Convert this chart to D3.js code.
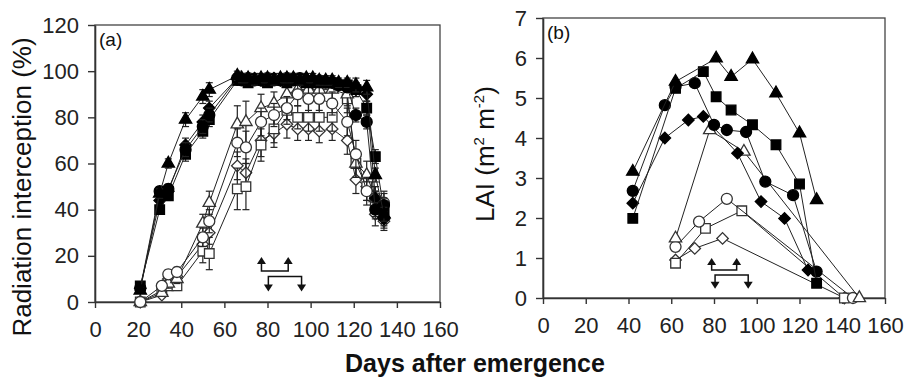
<!DOCTYPE html>
<head>
<meta charset="utf-8">
<script src="https://d3js.org/d3.v7.min.js"></script>
<style>
  body { margin:0; background:#fff; }
  svg { font-family: "Liberation Sans", Arial, sans-serif; }
</style>
</head>
<body>
<script>
// ---- data: panel (a) radiation interception (%) ----
var daysFilledA = [21, 30, 34, 42, 50, 53, 66, 68, 71, 74, 77, 80, 83, 86, 89, 92, 95, 98, 101, 104, 107, 110, 113, 117, 121, 126, 130, 134];
var riFilledTri = [5, 47, 60, 79, 89, 92, 98, 97, 97, 96, 97, 97, 96, 97, 97, 97, 96, 97, 97, 96, 96, 96, 95, 95, 94, 93, 55, 38];
var riFilledCir = [6, 48, 49, 66, 76, 81, 97, 96, 97, 96, 96, 97, 96, 96, 97, 96, 97, 96, 96, 96, 95, 95, 94, 93, 81, 78, 40, 42];
var riFilledSq  = [7, 40, 46, 64, 74, 79, 96, 96, 95, 96, 96, 95, 96, 96, 95, 96, 96, 95, 96, 95, 95, 95, 94, 94, 92, 84, 63, 40];
var riFilledDia = [6, 44, 48, 68, 78, 84, 97, 97, 96, 97, 96, 96, 97, 96, 96, 97, 96, 96, 95, 96, 96, 95, 94, 94, 92, 90, 45, 36];
var errFilledA  = [1, 2, 2, 3, 3, 3, 2, 2, 2, 2, 2, 2, 2, 2, 2, 2, 2, 2, 2, 2, 2, 2, 2, 2, 3, 3, 3, 3];

var daysOpenA = [21, 31, 34, 38, 50, 53, 66, 70, 77, 83, 89, 94, 99, 104, 110, 117, 121, 126, 130, 134];
var riOpenTri = [0, 4, 8, 10, 34, 43, 77, 78, 84, 86, 90, 92, 92, 92, 92, 90, 60, 55, 45, 38];
var riOpenCir = [0, 7, 12, 13, 28, 35, 69, 67, 78, 81, 84, 90, 88, 88, 86, 78, 64, 48, 45, 43];
var riOpenSq  = [0, 5, 7, 7, 22, 21, 49, 50, 68, 75, 83, 80, 80, 80, 80, 88, 60, 50, 42, 40];
var riOpenDia = [0, 3, 10, 11, 25, 30, 59, 56, 70, 73, 77, 75, 75, 74, 75, 70, 53, 50, 38, 35];
var errOpenTri = [0, 1, 2, 2, 4, 5, 8, 9, 6, 5, 5, 4, 4, 4, 4, 5, 6, 6, 5, 4];
var errOpenCir = [0, 1, 2, 2, 4, 5, 6, 7, 6, 5, 5, 5, 5, 5, 5, 6, 6, 6, 5, 4];
var errOpenSq  = [0, 1, 2, 2, 5, 7, 9, 10, 7, 6, 6, 5, 6, 6, 6, 6, 6, 6, 6, 8];
var errOpenDia = [0, 1, 2, 2, 4, 5, 6, 6, 7, 6, 6, 5, 5, 5, 5, 6, 6, 6, 5, 4];

// ---- data: panel (b) LAI ----
var daysFilledTriB = [42, 62, 81, 88, 98, 109, 120, 128];
var laiFilledTri   = [3.16, 5.41, 5.99, 5.53, 5.97, 5.12, 4.12, 2.45];
var daysFilledCirB = [42, 57, 62, 71, 80, 86, 95, 104, 117, 128];
var laiFilledCir   = [2.68, 4.82, 5.28, 5.37, 4.33, 4.2, 4.15, 2.91, 2.57, 0.66];
var daysFilledSqB  = [42, 62, 75, 81, 88, 98, 109, 120, 128];
var laiFilledSq    = [1.99, 5.24, 5.66, 5.03, 4.7, 4.33, 3.83, 2.85, 0.37];
var daysFilledDiaB = [42, 57, 68, 75, 91, 102, 113, 124];
var laiFilledDia   = [2.37, 4.0, 4.45, 4.54, 3.62, 2.41, 1.99, 0.7];

var daysOpenTriB = [62, 78, 94, 148];
var laiOpenTri   = [1.49, 4.2, 3.66, 0];
var daysOpenCirB = [62, 73, 86, 145];
var laiOpenCir   = [1.28, 1.91, 2.48, 0];
var daysOpenSqB  = [62, 76, 93, 141];
var laiOpenSq    = [0.87, 1.74, 2.18, 0];
var daysOpenDiaB = [62, 71, 84, 141];
var laiOpenDia   = [0.95, 1.24, 1.49, 0];

// flowering brackets: [start day, end day, bar value, arrow tip value]
var bracketsA = [[77.2, 89.6, 13.4, 19.5], [80.4, 95.8, 11.0, 4.6]];
var bracketsB = [[78.9, 90.6, 0.7, 1.0], [80.5, 96.0, 0.575, 0.23]];

var xTicks = [0, 20, 40, 60, 80, 100, 120, 140, 160];
var yTicksA = [0, 20, 40, 60, 80, 100, 120];
var yTicksB = [0, 1, 2, 3, 4, 5, 6, 7];

function zip(days, vals, errs) {
  return days.map(function(d, i) { return {x: d, y: vals[i], e: errs ? errs[i] : 0}; });
}

var seriesA = [
  {shape: "diamond", fill: false, pts: zip(daysOpenA, riOpenDia, errOpenDia)},
  {shape: "square", fill: false, pts: zip(daysOpenA, riOpenSq, errOpenSq)},
  {shape: "triangle", fill: false, pts: zip(daysOpenA, riOpenTri, errOpenTri)},
  {shape: "circle", fill: false, pts: zip(daysOpenA, riOpenCir, errOpenCir)},
  {shape: "diamond", fill: true, pts: zip(daysFilledA, riFilledDia, errFilledA)},
  {shape: "square", fill: true, pts: zip(daysFilledA, riFilledSq, errFilledA)},
  {shape: "circle", fill: true, pts: zip(daysFilledA, riFilledCir, errFilledA)},
  {shape: "triangle", fill: true, pts: zip(daysFilledA, riFilledTri, errFilledA)}
];
var seriesB = [
  {shape: "diamond", fill: false, pts: zip(daysOpenDiaB, laiOpenDia)},
  {shape: "square", fill: false, pts: zip(daysOpenSqB, laiOpenSq)},
  {shape: "circle", fill: false, pts: zip(daysOpenCirB, laiOpenCir)},
  {shape: "triangle", fill: false, pts: zip(daysOpenTriB, laiOpenTri)},
  {shape: "diamond", fill: true, pts: zip(daysFilledDiaB, laiFilledDia)},
  {shape: "circle", fill: true, pts: zip(daysFilledCirB, laiFilledCir)},
  {shape: "square", fill: true, pts: zip(daysFilledSqB, laiFilledSq)},
  {shape: "triangle", fill: true, pts: zip(daysFilledTriB, laiFilledTri)}
];

var W = 904, H = 378;
var svg = d3.select("body").append("svg").attr("width", W).attr("height", H);

var symbols = {
  triangle: d3.symbol().type(d3.symbolTriangle).size(66)(),
  circle: d3.symbol().type(d3.symbolCircle).size(95)(),
  square: d3.symbol().type(d3.symbolSquare).size(92)(),
  diamond: d3.symbol().type(d3.symbolSquare).size(66)()
};

function drawPanel(box, yMax, yTicks, series, brackets, tag, errorBars) {
  var x = d3.scaleLinear().domain([0, 160]).range([box.left, box.right]);
  var y = d3.scaleLinear().domain([0, yMax]).range([box.bottom, box.top]);
  var g = svg.append("g");

  g.append("rect")
    .attr("x", box.left).attr("y", box.top)
    .attr("width", box.right - box.left).attr("height", box.bottom - box.top)
    .attr("fill", "none").attr("stroke", "#444").attr("stroke-width", 1.3);

  var xa = g.append("g").attr("transform", "translate(0," + box.bottom + ")")
    .call(d3.axisBottom(x).tickValues(xTicks).tickSize(6).tickSizeOuter(0).tickPadding(13).tickFormat(d3.format("d")));
  var ya = g.append("g").attr("transform", "translate(" + box.left + ",0)")
    .call(d3.axisLeft(y).tickValues(yTicks).tickSize(7).tickSizeOuter(0).tickPadding(9).tickFormat(d3.format("d")));
  [xa, ya].forEach(function(a) {
    a.select(".domain").attr("stroke", "#333").attr("stroke-width", 1.6);
    a.selectAll(".tick line").attr("stroke", "#333").attr("stroke-width", 1.4);
    a.selectAll("text").attr("font-size", 22).attr("fill", "#222")
      .attr("font-family", "Liberation Sans, Arial, sans-serif");
  });

  g.append("text").attr("x", box.left + 4).attr("y", box.top + 21)
    .attr("font-size", 19).attr("fill", "#111").text(tag);

  // brackets
  var ah = 4.5;
  brackets.forEach(function(b) {
    var x0 = x(b[0]), x1 = x(b[1]), yb = y(b[2]), yt = y(b[3]);
    var dir = yt < yb ? 1 : -1;
    g.append("path")
      .attr("d", "M" + x0 + "," + (yt + dir * 6) + "V" + yb + "H" + x1 + "V" + (yt + dir * 6))
      .attr("fill", "none").attr("stroke", "#111").attr("stroke-width", 1.5);
    [x0, x1].forEach(function(xx) {
      g.append("path")
        .attr("d", "M" + (xx - ah) + "," + (yt + dir * 7) + "L" + xx + "," + yt + "L" + (xx + ah) + "," + (yt + dir * 7) + "Z")
        .attr("fill", "#111");
    });
  });

  var line = d3.line().x(function(d) { return x(d.x); }).y(function(d) { return y(d.y); });

  series.forEach(function(s) {
    var sg = g.append("g");
    sg.append("path").datum(s.pts).attr("d", line)
      .attr("fill", "none").attr("stroke", "#222").attr("stroke-width", 1);
    if (errorBars) {
      var eb = sg.selectAll(".eb").data(s.pts.filter(function(d) { return d.e > 0; })).enter().append("g")
        .attr("stroke", "#222").attr("stroke-width", 1.2);
      eb.append("line")
        .attr("x1", function(d) { return x(d.x); }).attr("x2", function(d) { return x(d.x); })
        .attr("y1", function(d) { return y(d.y - d.e); }).attr("y2", function(d) { return y(d.y + d.e); });
      eb.append("line")
        .attr("x1", function(d) { return x(d.x) - 3.5; }).attr("x2", function(d) { return x(d.x) + 3.5; })
        .attr("y1", function(d) { return y(d.y + d.e); }).attr("y2", function(d) { return y(d.y + d.e); });
      eb.append("line")
        .attr("x1", function(d) { return x(d.x) - 3.5; }).attr("x2", function(d) { return x(d.x) + 3.5; })
        .attr("y1", function(d) { return y(d.y - d.e); }).attr("y2", function(d) { return y(d.y - d.e); });
    }
    sg.selectAll(".pt").data(s.pts).enter().append("path")
      .attr("d", symbols[s.shape])
      .attr("transform", function(d) {
        return "translate(" + x(d.x) + "," + y(d.y) + ")" + (s.shape === "diamond" ? " rotate(45)" : "");
      })
      .attr("fill", s.fill ? "#000" : "#fff")
      .attr("stroke", s.fill ? "#000" : "#333")
      .attr("stroke-width", 1.3);
  });
}

drawPanel({left: 95, right: 440, top: 25, bottom: 302}, 120, yTicksA, seriesA, bracketsA, "(a)", true);
drawPanel({left: 543, right: 885, top: 18, bottom: 298}, 7, yTicksB, seriesB, bracketsB, "(b)", false);

// axis titles
svg.append("text")
  .attr("transform", "translate(31,187) rotate(-90)")
  .attr("text-anchor", "middle").attr("font-size", 26).attr("fill", "#111")
  .text("Radiation interception (%)");

var lai = svg.append("text")
  .attr("transform", "translate(494,222) rotate(-90)")
  .attr("font-size", 26).attr("fill", "#111");
lai.append("tspan").text("LAI (m");
lai.append("tspan").attr("font-size", 15).attr("dy", -10).text("2");
lai.append("tspan").attr("dy", 10).text(" m");
lai.append("tspan").attr("font-size", 15).attr("dy", -10).text("-2");
lai.append("tspan").attr("dy", 10).text(")");

svg.append("text")
  .attr("x", 475).attr("y", 372)
  .attr("text-anchor", "middle").attr("font-size", 25).attr("font-weight", "bold").attr("fill", "#111")
  .text("Days after emergence");
</script>
</body>
</html>
